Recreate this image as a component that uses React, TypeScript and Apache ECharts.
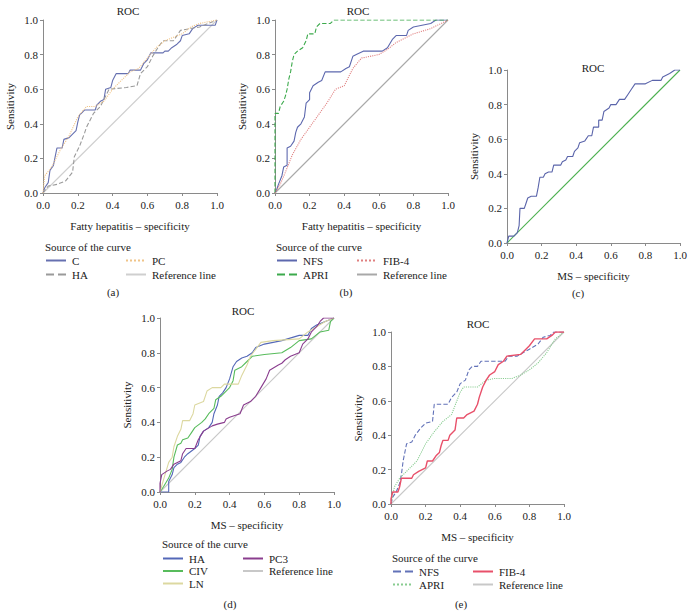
import React, { useEffect, useRef } from "react";
import * as echarts from "echarts";

type P = [number, number][];

// ---------- Panel (a): Fatty hepatitis ----------
const A_C: P = [[0,0],[0.01,0.03],[0.03,0.06],[0.04,0.13],[0.06,0.16],[0.07,0.21],[0.08,0.26],[0.11,0.26],[0.12,0.31],[0.15,0.32],[0.17,0.34],[0.19,0.36],[0.2,0.41],[0.21,0.45],[0.24,0.48],[0.3,0.48],[0.31,0.51],[0.33,0.53],[0.35,0.54],[0.36,0.6],[0.39,0.61],[0.4,0.65],[0.42,0.69],[0.49,0.69],[0.5,0.71],[0.56,0.71],[0.58,0.75],[0.6,0.77],[0.62,0.81],[0.69,0.81],[0.7,0.82],[0.72,0.82],[0.74,0.84],[0.77,0.86],[0.79,0.88],[0.8,0.91],[0.84,0.92],[0.86,0.95],[0.89,0.97],[0.99,0.97],[1,1]];
const A_HA: P = [[0,0],[0.03,0.04],[0.08,0.05],[0.13,0.07],[0.17,0.12],[0.18,0.21],[0.21,0.27],[0.24,0.35],[0.25,0.38],[0.29,0.46],[0.33,0.5],[0.36,0.56],[0.38,0.6],[0.48,0.61],[0.54,0.62],[0.56,0.69],[0.6,0.73],[0.63,0.79],[0.66,0.84],[0.69,0.88],[0.75,0.88],[0.79,0.94],[0.9,0.96],[1,1]];
const A_PC: P = [[0,0],[0.01,0.1],[0.05,0.15],[0.1,0.25],[0.15,0.33],[0.2,0.44],[0.25,0.5],[0.3,0.5],[0.35,0.53],[0.4,0.6],[0.45,0.65],[0.5,0.7],[0.55,0.72],[0.6,0.78],[0.65,0.84],[0.7,0.88],[0.8,0.92],[0.85,0.96],[0.9,0.98],[1,1]];

// ---------- Panel (b): Fatty hepatitis ----------
const B_NFS: P = [[0,0],[0.01,0.02],[0.02,0.05],[0.04,0.1],[0.05,0.15],[0.07,0.16],[0.07,0.26],[0.09,0.27],[0.11,0.3],[0.12,0.35],[0.13,0.38],[0.15,0.4],[0.17,0.44],[0.18,0.52],[0.2,0.54],[0.2,0.58],[0.22,0.62],[0.25,0.64],[0.27,0.65],[0.29,0.7],[0.38,0.7],[0.41,0.72],[0.43,0.73],[0.45,0.79],[0.47,0.8],[0.51,0.82],[0.62,0.82],[0.65,0.84],[0.68,0.89],[0.7,0.91],[0.76,0.91],[0.77,0.94],[0.8,0.96],[0.85,0.97],[0.9,0.98],[0.93,1],[1,1]];
const B_APRI: P = [[0,0],[0,0.46],[0.02,0.46],[0.03,0.5],[0.05,0.53],[0.06,0.56],[0.07,0.6],[0.08,0.66],[0.09,0.7],[0.1,0.76],[0.11,0.8],[0.13,0.82],[0.16,0.84],[0.18,0.88],[0.19,0.92],[0.23,0.92],[0.24,0.96],[0.26,0.98],[0.32,0.98],[0.34,1],[1,1]];
const B_FIB4: P = [[0,0],[0.03,0.05],[0.06,0.12],[0.1,0.22],[0.15,0.31],[0.2,0.38],[0.25,0.45],[0.3,0.52],[0.35,0.6],[0.4,0.62],[0.45,0.72],[0.5,0.78],[0.6,0.8],[0.65,0.83],[0.7,0.87],[0.8,0.92],[0.9,0.95],[1,1]];

// ---------- Panel (c): MS ----------
const C_CURVE: P = [[0,0],[0.01,0.04],[0.04,0.04],[0.06,0.06],[0.07,0.1],[0.075,0.2],[0.1,0.2],[0.11,0.23],[0.12,0.26],[0.14,0.27],[0.17,0.27],[0.18,0.32],[0.19,0.38],[0.21,0.38],[0.22,0.4],[0.24,0.41],[0.26,0.41],[0.27,0.45],[0.31,0.45],[0.32,0.47],[0.34,0.48],[0.35,0.5],[0.38,0.5],[0.39,0.53],[0.41,0.55],[0.42,0.58],[0.45,0.59],[0.47,0.62],[0.49,0.62],[0.5,0.67],[0.53,0.67],[0.53,0.71],[0.55,0.71],[0.56,0.76],[0.59,0.78],[0.6,0.8],[0.63,0.8],[0.65,0.83],[0.68,0.83],[0.7,0.86],[0.72,0.89],[0.74,0.92],[0.8,0.92],[0.84,0.94],[0.89,0.94],[0.9,0.96],[0.94,0.98],[0.97,1],[1,1]];

// ---------- Panel (d): MS ----------
const D_HA: P = [[0,0],[0.05,0],[0.05,0.06],[0.07,0.1],[0.08,0.14],[0.1,0.16],[0.12,0.17],[0.14,0.2],[0.16,0.22],[0.2,0.25],[0.22,0.27],[0.23,0.32],[0.25,0.35],[0.28,0.37],[0.3,0.4],[0.31,0.45],[0.33,0.5],[0.34,0.55],[0.36,0.57],[0.38,0.6],[0.4,0.65],[0.42,0.72],[0.44,0.75],[0.47,0.77],[0.5,0.78],[0.53,0.8],[0.55,0.83],[0.6,0.85],[0.7,0.87],[0.8,0.9],[0.85,0.9],[0.87,0.94],[0.9,0.96],[0.95,0.98],[1,1]];
const D_CIV: P = [[0,0],[0.02,0.03],[0.05,0.08],[0.07,0.13],[0.08,0.2],[0.1,0.27],[0.12,0.28],[0.13,0.3],[0.16,0.31],[0.18,0.34],[0.2,0.37],[0.24,0.4],[0.26,0.42],[0.28,0.45],[0.31,0.48],[0.32,0.53],[0.35,0.55],[0.38,0.58],[0.4,0.6],[0.42,0.64],[0.43,0.7],[0.47,0.72],[0.5,0.75],[0.53,0.78],[0.6,0.79],[0.7,0.8],[0.75,0.83],[0.8,0.87],[0.87,0.88],[0.92,0.92],[0.97,0.93],[0.98,0.98],[1,1]];
const D_LN: P = [[0,0],[0.02,0.07],[0.05,0.17],[0.07,0.2],[0.08,0.26],[0.1,0.32],[0.12,0.36],[0.13,0.41],[0.17,0.41],[0.19,0.45],[0.2,0.5],[0.25,0.52],[0.27,0.58],[0.3,0.6],[0.35,0.6],[0.37,0.62],[0.45,0.62],[0.47,0.67],[0.5,0.73],[0.52,0.78],[0.55,0.82],[0.58,0.86],[0.65,0.87],[0.8,0.88],[0.85,0.92],[0.9,0.95],[0.95,0.98],[1,1]];
const D_PC3: P = [[0,0],[0,0.05],[0.01,0.1],[0.04,0.12],[0.06,0.13],[0.08,0.16],[0.12,0.18],[0.13,0.22],[0.15,0.25],[0.2,0.25],[0.22,0.3],[0.25,0.35],[0.3,0.38],[0.33,0.39],[0.37,0.4],[0.38,0.42],[0.4,0.43],[0.46,0.45],[0.48,0.5],[0.52,0.52],[0.55,0.55],[0.58,0.6],[0.61,0.65],[0.63,0.7],[0.68,0.73],[0.7,0.74],[0.72,0.76],[0.75,0.78],[0.8,0.8],[0.82,0.85],[0.85,0.88],[0.87,0.92],[0.9,0.95],[0.92,0.98],[0.94,1],[1,1]];

// ---------- Panel (e): MS ----------
const E_NFS: P = [[0,0],[0.01,0.04],[0.03,0.07],[0.05,0.12],[0.06,0.17],[0.07,0.25],[0.09,0.35],[0.12,0.36],[0.14,0.4],[0.17,0.44],[0.2,0.47],[0.24,0.48],[0.25,0.58],[0.33,0.58],[0.35,0.62],[0.38,0.65],[0.4,0.7],[0.43,0.72],[0.45,0.78],[0.47,0.8],[0.5,0.8],[0.52,0.83],[0.66,0.83],[0.68,0.86],[0.73,0.86],[0.8,0.9],[0.85,0.93],[0.88,0.97],[0.92,0.98],[0.94,1],[1,1]];
const E_APRI: P = [[0,0],[0.02,0.1],[0.05,0.15],[0.1,0.2],[0.15,0.25],[0.2,0.35],[0.25,0.42],[0.3,0.48],[0.35,0.52],[0.4,0.65],[0.42,0.68],[0.5,0.68],[0.55,0.72],[0.6,0.73],[0.7,0.73],[0.75,0.75],[0.8,0.78],[0.85,0.82],[0.9,0.88],[0.95,0.96],[1,1]];
const E_FIB4: P = [[0,0],[0,0.03],[0.01,0.07],[0.04,0.07],[0.05,0.1],[0.06,0.15],[0.12,0.15],[0.13,0.17],[0.16,0.19],[0.2,0.21],[0.21,0.25],[0.24,0.25],[0.26,0.28],[0.28,0.3],[0.29,0.34],[0.3,0.37],[0.33,0.37],[0.34,0.4],[0.37,0.43],[0.38,0.5],[0.42,0.5],[0.44,0.52],[0.48,0.54],[0.5,0.58],[0.51,0.62],[0.53,0.68],[0.55,0.72],[0.57,0.75],[0.6,0.77],[0.62,0.81],[0.65,0.83],[0.67,0.86],[0.75,0.87],[0.78,0.9],[0.8,0.92],[0.83,0.96],[0.9,0.96],[0.93,0.98],[0.95,1],[1,1]];

const REF: P = [[0,0],[1,1]];
const TICKS = [0, 0.2, 0.4, 0.6, 0.8, 1.0];

const FONT = "serif";
const FS = 11;
const TXT = "#222";

type S = { name: string; data: P; color: string; type: "solid" | "dashed" | "dotted"; width?: number };
type Panel = {
  id: string;
  grid: { left: number; top: number; width: number; height: number };
  xName: string;
  roc: [number, number];
  label: [number, number];
  series: S[];
  legendHead?: [number, number];
  legendCols?: { left: number; names: string[] }[];
  legendTop?: number;
  legendGap?: number;
};

const panels: Panel[] = [
  {
    id: "a", grid: { left: 43, top: 20, width: 174, height: 173 }, xName: "Fatty hepatitis – specificity",
    roc: [128, 11], label: [113, 292],
    series: [
      { name: "C", data: A_C, color: "#6670b0", type: "solid" },
      { name: "HA", data: A_HA, color: "#9a9a9a", type: "dashed" },
      { name: "PC", data: A_PC, color: "#f0c488", type: "dotted" },
      { name: "Reference line", data: REF, color: "#cfcfcf", type: "solid" },
    ],
    legendHead: [45, 247], legendTop: 255, legendGap: 3,
    legendCols: [{ left: 45, names: ["C", "HA"] }, { left: 125, names: ["PC", "Reference line"] }],
  },
  {
    id: "b", grid: { left: 275, top: 20, width: 173, height: 173 }, xName: "Fatty hepatitis – specificity",
    roc: [358, 11], label: [346, 292],
    series: [
      { name: "NFS", data: B_NFS, color: "#5d68ae", type: "solid" },
      { name: "APRI", data: B_APRI, color: "#3caa4c", type: "dashed" },
      { name: "FIB-4", data: B_FIB4, color: "#e08080", type: "dotted" },
      { name: "Reference line", data: REF, color: "#a8a8a8", type: "solid" },
    ],
    legendHead: [276, 247], legendTop: 255, legendGap: 3,
    legendCols: [{ left: 276, names: ["NFS", "APRI"] }, { left: 356, names: ["FIB-4", "Reference line"] }],
  },
  {
    id: "c", grid: { left: 507, top: 70, width: 173, height: 173 }, xName: "MS – specificity",
    roc: [593, 68], label: [578, 293],
    series: [
      { name: "MS", data: C_CURVE, color: "#5a64aa", type: "solid" },
      { name: "Reference line", data: REF, color: "#4cb050", type: "solid" },
    ],
  },
  {
    id: "d", grid: { left: 160, top: 318, width: 174, height: 174 }, xName: "MS – specificity",
    roc: [243, 311], label: [230, 604],
    series: [
      { name: "HA", data: D_HA, color: "#5468b8", type: "solid" },
      { name: "CIV", data: D_CIV, color: "#58bc5c", type: "solid" },
      { name: "LN", data: D_LN, color: "#dcd8a0", type: "solid" },
      { name: "PC3", data: D_PC3, color: "#8a3d8e", type: "solid" },
      { name: "Reference line", data: REF, color: "#c8c8c8", type: "solid" },
    ],
    legendHead: [162, 544], legendTop: 553, legendGap: 1.5,
    legendCols: [{ left: 162, names: ["HA", "CIV", "LN"] }, { left: 242, names: ["PC3", "Reference line"] }],
  },
  {
    id: "e", grid: { left: 391, top: 332, width: 173, height: 172 }, xName: "MS – specificity",
    roc: [478, 324], label: [461, 604],
    series: [
      { name: "NFS", data: E_NFS, color: "#6272b8", type: "dashed" },
      { name: "APRI", data: E_APRI, color: "#88cc90", type: "dotted" },
      { name: "FIB-4", data: E_FIB4, color: "#e8506a", type: "solid", width: 1.4 },
      { name: "Reference line", data: REF, color: "#c8c8c8", type: "solid" },
    ],
    legendHead: [392, 558], legendTop: 566, legendGap: 2,
    legendCols: [{ left: 392, names: ["NFS", "APRI"] }, { left: 472, names: ["FIB-4", "Reference line"] }],
  },
];

function buildOption() {
  const grid: any[] = [];
  const xAxis: any[] = [];
  const yAxis: any[] = [];
  const series: any[] = [];
  const legend: any[] = [];
  const graphic: any[] = [];

  const axisCommon = {
    type: "value",
    min: 0,
    max: 1,
    interval: 0.2,
    axisLine: { show: true, lineStyle: { color: "#8a8a8a", width: 1 } },
    axisTick: { show: true, length: 3, lineStyle: { color: "#8a8a8a" } },
    splitLine: { show: false },
    axisLabel: {
      fontFamily: FONT, fontSize: FS, color: TXT,
      formatter: (v: number) => (TICKS.some((t) => Math.abs(t - v) < 1e-9) ? v.toFixed(1) : ""),
    },
    nameTextStyle: { fontFamily: FONT, fontSize: FS, color: TXT },
  };

  panels.forEach((p, i) => {
    grid.push({ ...p.grid, containLabel: false });
    xAxis.push({
      ...axisCommon, gridIndex: i, name: p.xName, nameLocation: "middle", nameGap: 27,
      axisLabel: { ...axisCommon.axisLabel, margin: 6 },
    });
    yAxis.push({
      ...axisCommon, gridIndex: i, name: "Sensitivity", nameLocation: "middle", nameGap: 28,
      axisLabel: { ...axisCommon.axisLabel, margin: 5 },
    });
    p.series.forEach((s) => {
      series.push({
        type: "line",
        name: `${s.name}|${p.id}`,
        xAxisIndex: i,
        yAxisIndex: i,
        data: s.data,
        symbol: "none",
        silent: true,
        lineStyle: { color: s.color, width: s.width ?? 1.1, type: s.type },
        itemStyle: { color: s.color },
        z: s.name === "Reference line" ? 1 : 2,
      });
    });
    graphic.push({
      type: "text", x: p.roc[0], y: p.roc[1],
      style: { text: "ROC", fontFamily: FONT, fontSize: FS, fill: TXT, align: "center", verticalAlign: "middle" },
    });
    graphic.push({
      type: "text", x: p.label[0], y: p.label[1],
      style: { text: `(${p.id})`, fontFamily: FONT, fontSize: FS, fill: TXT, align: "center", verticalAlign: "middle" },
    });
    if (p.legendHead && p.legendCols) {
      graphic.push({
        type: "text", x: p.legendHead[0], y: p.legendHead[1],
        style: { text: "Source of the curve", fontFamily: FONT, fontSize: FS, fill: TXT, align: "left", verticalAlign: "middle" },
      });
      p.legendCols.forEach((col) => {
        legend.push({
          orient: "vertical",
          left: col.left,
          top: p.legendTop,
          padding: 0,
          itemGap: p.legendGap,
          itemWidth: 20,
          itemHeight: 11,
          selectedMode: false,
          data: col.names.map((n) => `${n}|${p.id}`),
          formatter: (name: string) => name.split("|")[0],
          itemStyle: { opacity: 0 },
          textStyle: { fontFamily: FONT, fontSize: FS, color: TXT, padding: [0, 0, 0, 1] },
        });
      });
    }
  });

  return {
    animation: false,
    backgroundColor: "#ffffff",
    textStyle: { fontFamily: FONT },
    grid, xAxis, yAxis, series, legend, graphic,
  };
}

export default function App() {
  const ref = useRef<HTMLDivElement>(null);
  useEffect(() => {
    const chart = echarts.init(ref.current!, null, { renderer: "svg" });
    chart.setOption(buildOption() as any);
    return () => chart.dispose();
  }, []);
  return (
    <div
      ref={ref}
      style={{ position: "fixed", left: 0, top: 0, width: 694, height: 616, background: "#fff" }}
    />
  );
}
